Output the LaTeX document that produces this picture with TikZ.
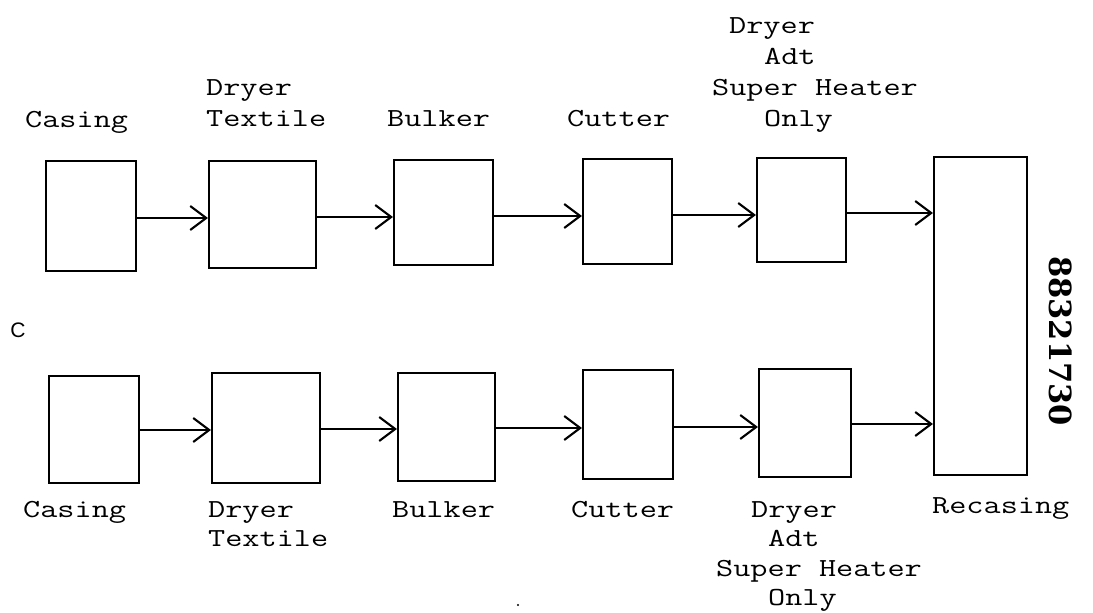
\documentclass[tikz,border=0pt]{standalone}
\usepackage{fontspec}
\setmainfont{Latin Modern Mono}
\newfontfamily\tw{Latin Modern Mono}[FakeStretch=1.28]
\newfontfamily\csans{Liberation Sans}
\newfontfamily\numf{DejaVu Serif}
\usetikzlibrary{arrows.meta}
\tikzset{
  box/.style={draw, line width=2.1pt, inner sep=0pt, rectangle},
  arr/.style={line width=2.1pt, -{Straight Barb[length=16pt,width=24pt,line width=2.1pt]}},
  lab/.style={inner sep=0pt, anchor=base west, font=\tw\fontsize{26}{30}\selectfont},
}
\begin{document}
\begin{tikzpicture}[x=1pt,y=-1pt]
\useasboundingbox (0,0) rectangle (1093,613);
% top row boxes
\node[box, minimum width=90pt, minimum height=110pt] (c1) at (91,216) {};
\node[box, minimum width=107pt, minimum height=107pt] (d1) at (262.5,214.5) {};
\node[box, minimum width=99pt, minimum height=105pt] (b1) at (443.5,212.5) {};
\node[box, minimum width=89pt, minimum height=105pt] (u1) at (627.5,211.5) {};
\node[box, minimum width=89pt, minimum height=104pt] (a1) at (801.5,210) {};
\node[box, minimum width=93pt, minimum height=318pt] (R) at (980.5,316) {};
% bottom row boxes
\node[box, minimum width=90pt, minimum height=107pt] (c2) at (94,429.5) {};
\node[box, minimum width=108pt, minimum height=110pt] (d2) at (266,428) {};
\node[box, minimum width=97pt, minimum height=108pt] (b2) at (446.5,427) {};
\node[box, minimum width=90pt, minimum height=109pt] (u2) at (628,424.5) {};
\node[box, minimum width=92pt, minimum height=108pt] (a2) at (805,423) {};
% arrows top
\draw[arr] (c1.east |- 0,218) -- (d1.west |- 0,218);
\draw[arr] (d1.east |- 0,217) -- (b1.west |- 0,217);
\draw[arr] (b1.east |- 0,216) -- (u1.west |- 0,216);
\draw[arr] (u1.east |- 0,215) -- (a1.west |- 0,215);
\draw[arr] (a1.east |- 0,213) -- (R.west |- 0,213);
% arrows bottom
\draw[arr] (c2.east |- 0,430) -- (d2.west |- 0,430);
\draw[arr] (d2.east |- 0,429) -- (b2.west |- 0,429);
\draw[arr] (b2.east |- 0,428) -- (u2.west |- 0,428);
\draw[arr] (u2.east |- 0,427) -- (a2.west |- 0,427);
\draw[arr] (a2.east |- 0,424) -- (R.west |- 0,424);
% top labels
\node[lab] (tc) at (25,127) {Casing};
\node[lab] (td1) at (206,95) {Dryer};
\node[lab] (td2) at (206,126) {Textile};
\node[lab] (tb) at (387,126) {Bulker};
\node[lab] (tu) at (567,126) {Cutter};
\node[lab] (ta1) at (729,33) {Dryer};
\node[lab] (ta2) at (764,64) {Adt};
\node[lab] (ta3) at (712,95) {Super Heater};
\node[lab] (ta4) at (764,126) {Only};
% bottom labels
\node[lab] (bc) at (23,517) {Casing};
\node[lab] (bd1) at (208,517) {Dryer};
\node[lab] (bd2) at (208,546) {Textile};
\node[lab] (bb) at (392,517) {Bulker};
\node[lab] (bu) at (571,517) {Cutter};
\node[lab] (ba1) at (751,517) {Dryer};
\node[lab] (ba2) at (768,546) {Adt};
\node[lab] (ba3) at (716,576) {Super Heater};
\node[lab] (ba4) at (768,605) {Only};
\node[lab] (rl) at (932,513) {Recasing};
% side marks
\node[inner sep=0pt, font=\csans\fontsize{21}{21}\selectfont] (cmark) at (18,330) {C};
\node[inner sep=0pt, rotate=-90, font=\numf\bfseries\fontsize{30.5}{31}\selectfont] (num) at (1061,341) {88321730};
\fill (518,605) circle (1.2pt);
\end{tikzpicture}
\end{document}
